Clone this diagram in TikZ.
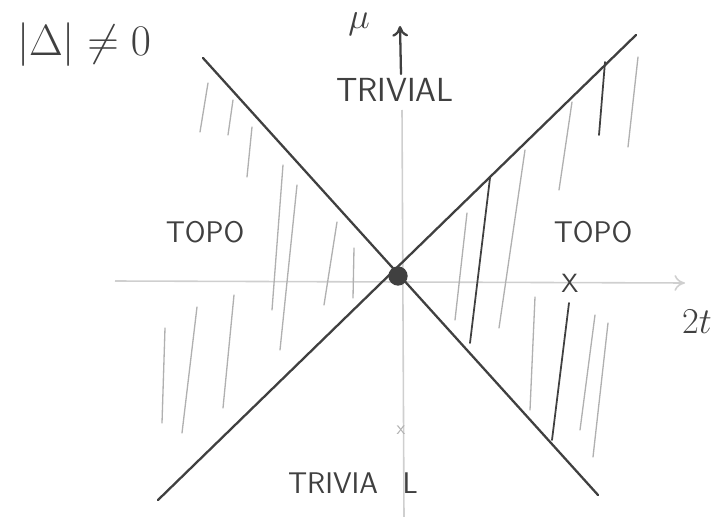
\documentclass[tikz,border=0pt]{standalone}
\usetikzlibrary{arrows.meta}
\definecolor{ink}{HTML}{404040}
\definecolor{pencil}{HTML}{B0B0B0}
\definecolor{faint}{HTML}{CFCFCF}
\tikzset{
  ink line/.style={draw=ink, line width=1.3pt, line cap=round},
  axis/.style={draw=faint, line width=0.9pt},
  hatch/.style={draw=pencil, line width=0.75pt, line cap=round},
  dark hatch/.style={draw=ink, line width=1pt, line cap=round},
  lbl/.style={text=ink, font=\sffamily\fontsize{17}{20}\selectfont, inner sep=0pt},
}
\begin{document}
\begin{tikzpicture}[x=0.02cm, y=-0.02cm]
  \useasboundingbox (0,0) rectangle (717,517);
  % axes
  \coordinate (xl) at (115,281);
  \coordinate (xr) at (685,283);
  \coordinate (yb) at (404,517);
  \coordinate (yt) at (402,110);
  \coordinate (yt0) at (401,74);
  \coordinate (yt1) at (400,26);
  \draw[axis] (yb) -- (yt);
  \draw[axis, -{To[length=6pt,width=9pt]}] (xl) -- (xr);
  \draw[ink line, -{To[length=6pt,width=9pt]}] (yt0) -- (yt1);
  % hatching of the topological regions
  \foreach \xa/\ya/\xb/\yb in {208/83/200/132, 233/100/228/135, 252/127/247/177,
      283/165/272/310, 297/185/280/350, 337/222/324/305, 354/248/353/298,
      165/328/162/423, 197/307/182/433, 234/295/223/408,
      638/57/628/147, 572/102/559/190, 525/150/499/328, 467/213/455/320,
      535/297/530/410, 595/315/580/430, 608/323/593/457} {
    \draw[hatch] (\xa,\ya) -- (\xb,\yb);
  }
  \foreach \xa/\ya/\xb/\yb in {605/62/599/135, 490/178/470/343, 569/303/552/440} {
    \draw[dark hatch] (\xa,\ya) -- (\xb,\yb);
  }
  % phase boundaries
  \coordinate (nw) at (203,58);
  \coordinate (se) at (598,495);
  \coordinate (sw) at (158,500);
  \coordinate (ne) at (636,35);
  \draw[ink line] (nw) -- (se);
  \draw[ink line] (sw) -- (ne);
  \node[circle, fill=ink, minimum size=11pt, inner sep=0pt] (c) at (398,276) {};
  % marks on the axes
  \node[text=ink, font=\sffamily\fontsize{15}{18}\selectfont, inner sep=0pt] (xmark) at (570,283) {X};
  \node[text=pencil, font=\sffamily\fontsize{11}{13}\selectfont, inner sep=0pt] (ymark) at (401,430) {x};
  % labels
  \node[text=ink, font=\fontsize{27}{31}\selectfont, inner sep=0pt] (gap) at (84,45) {$|\Delta|\neq 0$};
  \node[text=ink, font=\fontsize{22}{26}\selectfont, inner sep=0pt] (mu) at (359,24) {$\mu$};
  \node[lbl, font=\sffamily\fontsize{19}{22}\selectfont] (trivup) at (395,90) {TRIVIAL};
  \node[lbl] (topol) at (205,232) {TOPO};
  \node[lbl] (topor) at (593,232) {TOPO};
  \node[lbl] (trivdn) at (353,483) {TRIVIA\hspace{14pt}L};
  \node[text=ink, font=\fontsize{21}{25}\selectfont, inner sep=0pt] (twot) at (697,322) {$2t$};
\end{tikzpicture}
\end{document}
